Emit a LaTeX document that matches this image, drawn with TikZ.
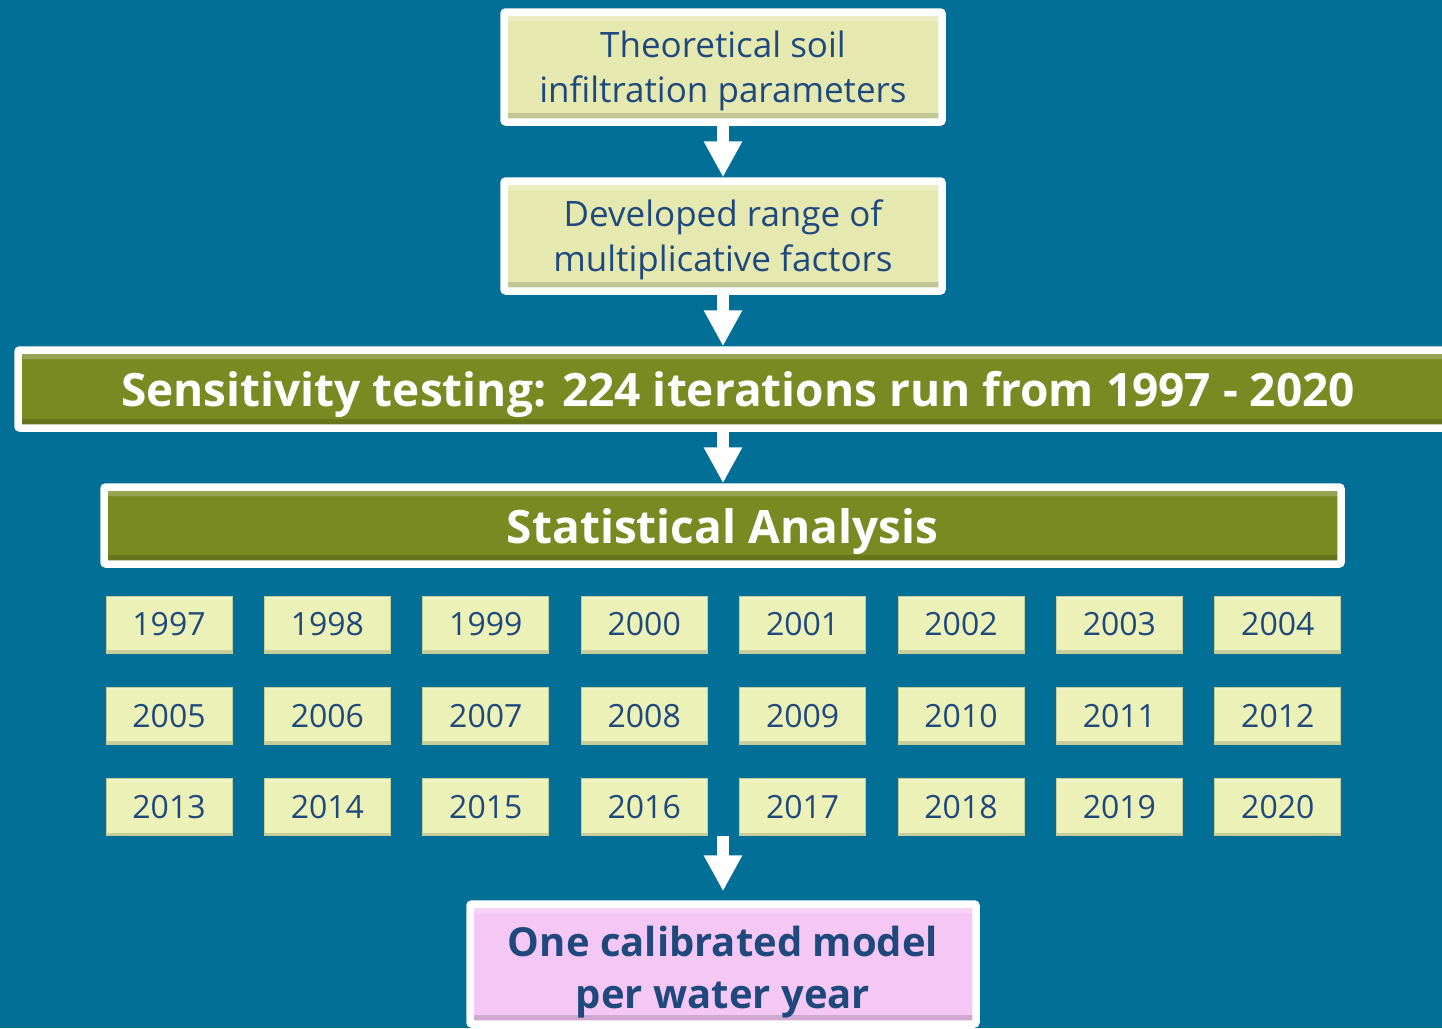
\documentclass[tikz,border=0pt]{standalone}
\usepackage{fontspec}
\setmainfont{Open Sans}
\usetikzlibrary{arrows.meta,shadows}
\definecolor{bgTeal}{RGB}{2,111,151}
\definecolor{boxYellow}{RGB}{229,233,176}
\definecolor{yearYellow}{RGB}{236,241,183}
\definecolor{barOlive}{RGB}{122,138,35}
\definecolor{modelPink}{RGB}{245,199,245}
\definecolor{textBlue}{RGB}{31,73,125}
\newcommand{\stepFont}[0]{\fontsize{35}{45}\selectfont}
\newcommand{\barFont}[0]{\fontsize{46}{54}\selectfont\bfseries}
\newcommand{\yearFont}[0]{\fontsize{32}{38}\selectfont}
% taller first line, pushes two-line texts down in their boxes
\newcommand{\lineLift}[1]{\rule{0pt}{#1}}

\begin{document}
\begin{tikzpicture}[x=1pt,y=-1pt]
  \tikzset{
    bevel/.style={path picture={
      \fill[black,opacity=.15] ([yshift=#1]path picture bounding box.south west)
        rectangle (path picture bounding box.south east);
      \fill[white,opacity=.22] (path picture bounding box.north west)
        rectangle ([yshift=-#1]path picture bounding box.north east);
    }},
    bevel/.default=9pt,
    frame box/.style={draw=white, line width=7.5pt, rounded corners=2pt,
      inner sep=0pt, align=center, text=textBlue, bevel,
      drop shadow={opacity=.35, shadow xshift=2pt, shadow yshift=-3pt}},
    year box/.style={draw={rgb,255:red,196;green,206;blue,150}, line width=.8pt,
      fill=yearYellow, inner sep=0pt, minimum width=126pt, minimum height=57pt,
      text=textBlue, font=\yearFont, bevel=3pt},
    flow arrow/.style={draw=white, line width=12pt,
      -{Triangle[width=36pt,length=36pt]}}
  }
  \useasboundingbox (0,0) rectangle (1442,1028);
  \fill[bgTeal] (0,0) rectangle (1442,1028);
  \clip (0,0) rectangle (1442,1028);

  \node[frame box, fill=boxYellow, minimum width=438pt, minimum height=110pt,
    font=\stepFont] (theory) at (723,67)
    {\lineLift{35pt}Theoretical soil\\infiltration parameters};
  \node[frame box, fill=boxYellow, minimum width=438pt, minimum height=110pt,
    font=\stepFont] (develop) at (723,236)
    {\lineLift{35pt}Developed range of\\multiplicative factors};

  \node[frame box, fill=barOlive, minimum width=1440pt, minimum height=78pt,
    text=white, font=\barFont, text height=45pt, text depth=11pt] (sens) at (738,389)
    {Sensitivity testing: 224 iterations run from 1997 - 2020};
  \node[frame box, fill=barOlive, minimum width=1237pt, minimum height=77pt,
    text=white, font=\barFont, text height=47pt, text depth=11pt] (stats) at (722.5,525.5)
    {Statistical Analysis};

  % one box per water year, eight to a row
  \foreach \row in {0,1,2} {
    \foreach \col in {0,...,7} {
      \pgfmathtruncatemacro{\yr}{1997+8*\row+\col}
      \node[year box] (y\yr) at ({169+158.4*\col},{624.5+91.3*\row}) {\yr};
    }
  }

  \node[frame box, fill=modelPink, minimum width=506pt, minimum height=120pt,
    font=\fontsize{40}{52}\selectfont\bfseries] (model) at (723,964)
    {\lineLift{47pt}One calibrated model\\per water year};

  \draw[flow arrow] (theory.south) -- (develop.north);
  \draw[flow arrow] (develop.south) -- (develop.south |- sens.north);
  \draw[flow arrow] (develop.south |- sens.south) -- (develop.south |- stats.north);
  \draw[flow arrow] (model.north |- y2016.south) -- ([yshift=9pt]model.north);
\end{tikzpicture}
\end{document}
